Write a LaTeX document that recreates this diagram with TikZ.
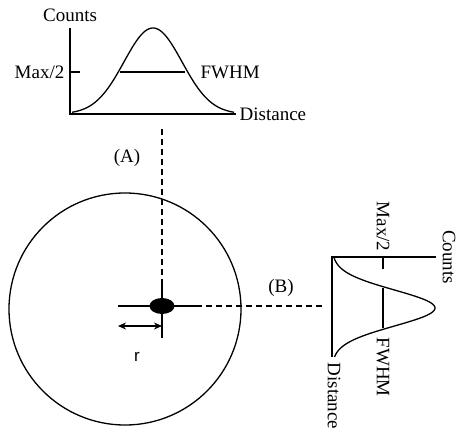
\documentclass[tikz,border=0pt]{standalone}
\usepackage{fontspec}
\setmainfont{Liberation Serif}
\setsansfont{Liberation Sans}
\usepackage{tikz}
\usetikzlibrary{positioning,shapes.geometric,arrows.meta}

\begin{document}
\begin{tikzpicture}[x=1pt,y=-1pt,line width=1.3pt,>={Stealth[length=8pt,width=7pt]},
      lbl/.style={font=\fontsize{19}{22}\selectfont,inner sep=1pt},
      axis/.style={line width=1.6pt},
      guide/.style={dash pattern=on 6pt off 4pt}]
      \useasboundingbox (0,0) rectangle (466,436);

      \coordinate (oA) at (70,114);
      \coordinate (yA) at (70,28);
      \coordinate (xA) at (236,114);
      \coordinate (mA) at (70,72);
      \coordinate (tA) at (80,72);
      \coordinate (fA1) at (120,72);
      \coordinate (fA2) at (185,72);
      \node[lbl] (countsA) [above=5pt of yA] {Counts};
      \node[lbl] (maxA) [left=4pt of mA] {Max/2};
      \node[lbl] (fwhmA) [right=14pt of fA2] {FWHM};
      \node[lbl] (distA) [right=2pt of xA] {Distance};

      \coordinate (oB) at (332,257);
      \coordinate (xB) at (332,357);
      \coordinate (yB) at (436,257);
      \coordinate (mB) at (383,257);
      \coordinate (tB) at (383,269);
      \coordinate (fB1) at (383,288);
      \coordinate (fB2) at (383,328);
      \node[lbl,rotate=-90,anchor=south] (countsB) at (441,257) {Counts};
      \node[lbl,rotate=-90,anchor=east] (maxB) at (383,253) {Max/2};
      \node[lbl,rotate=-90,anchor=west] (fwhmB) at (383,336) {FWHM};
      \node[lbl,rotate=-90,anchor=west] (distB) at (334,361) {Distance};

      \node[circle,draw,minimum size=232pt,inner sep=0pt] (disk) at (125,309) {};
      \node[ellipse,fill,minimum width=25pt,minimum height=16pt,inner sep=0pt] (spot) at (162,306) {};
      \coordinate (vTop) at (162,129);
      \coordinate (vMid) at (162,279);
      \coordinate (vBot) at (162,338);
      \coordinate (hLeft) at (118,306);
      \coordinate (hMid) at (196,306);
      \coordinate (hEnd) at (322,306);
      \coordinate (rL) at (118,326);
      \coordinate (rR) at (162,326);
      \node[lbl] (labA) at (127,158) {(A)};
      \node[lbl] (labB) at (281,288) {(B)};
      \node[lbl,font=\sffamily\fontsize{17}{20}\selectfont] (labR) at (137,357) {r};

      \draw[axis] (yA) -- (oA) -- (xA);
      \draw (mA) -- (tA);
      \draw (fA1) -- (fA2);
      \draw plot[domain=72:234,samples=90] (\x,{114-86*exp(-((\x-153)^2)/(2*29^2))});

      \draw[axis] (xB) -- (oB) -- (yB);
      \draw (mB) -- (tB);
      \draw (fB1) -- (fB2);
      \draw plot[domain=257:357,samples=90] ({332+103*exp(-((\x-308)^2)/(2*18^2))},\x);

      \draw[guide] (vTop) -- (vMid);
      \draw (vMid) -- (vBot);
      \draw (hLeft) -- (hMid);
      \draw[guide] (hMid) -- (hEnd);
      \draw[<->] (rL) -- (rR);
    \end{tikzpicture}
\end{document}
